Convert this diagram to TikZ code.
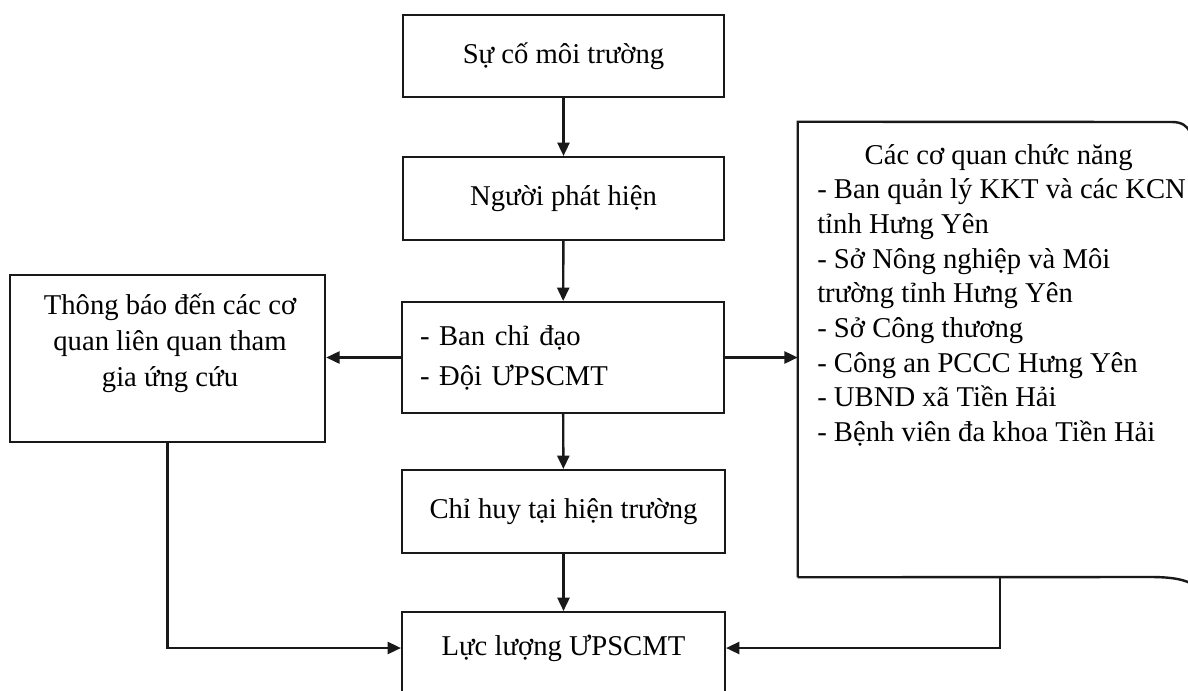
\documentclass[tikz,border=0pt]{standalone}
\usepackage{fontspec}
\setmainfont{Liberation Serif}
\usetikzlibrary{arrows.meta}
\begin{document}
\begin{tikzpicture}[x=0.75pt,y=-0.75pt,
  line/.style={line width=1.8pt, draw=black!90},
  box/.style={line, rectangle, inner sep=0pt, font=\fontsize{21.5}{26}\selectfont},
  arr/.style={line, -{Triangle[length=10pt,width=9pt]}},
  txt/.style={inner sep=0pt, font=\fontsize{21.5}{26}\selectfont}]
\path[fill=white] (0,0) rectangle (1188,690);
\useasboundingbox (0,0) rectangle (1188,690);
\clip (0,0) rectangle (1188,690);
% centre column
\node[box, minimum width=241pt, minimum height=61.5pt] (b1) at (563.5,56) {Sự cố môi trường};
\node[box, minimum width=241pt, minimum height=62pt] (b2) at (563.5,198.5) {Người phát hiện};
\node[box, minimum width=241.5pt, minimum height=83pt, text width=214.5pt, align=left,
      font=\fontsize{21.5}{30}\selectfont] (b3) at (563,357.5) {- Ban chỉ đạo\\- Đội ƯPSCMT};
\node[box, minimum width=242pt, minimum height=62pt] (b4) at (563.5,511.5) {Chỉ huy tại hiện trường};
\node[box, minimum width=242pt, minimum height=75pt, anchor=north] (b5) at (563.5,611) {};
\node[txt] (t5) at (563.5,648) {Lực lượng ƯPSCMT};
% left box
\node[box, minimum width=236.25pt, minimum height=125.25pt] (lft) at (167.5,358.5) {};
\node[txt, align=center, font=\fontsize{21.5}{27}\selectfont] (tl) at (170,343)
  {Thông báo đến các cơ\\quan liên quan tham\\gia ứng cứu};
% right box
\node[inner sep=0pt, minimum width=294pt, minimum height=341.25pt] (org) at (994,349.5) {};
\draw[line] (org.south west) -- (org.north west) -- (1172,122)
  .. controls (1182,122) and (1187,126) .. (1190,132);
\draw[line] (org.south west) -- (1150,577)
  .. controls (1170,577) and (1182,579) .. (1190,583);
\node[txt, anchor=north west, align=left] (tr) at (817,144)
  {\makebox[272pt][c]{Các cơ quan chức năng}\\
   - Ban quản lý KKT và các KCN\\
   tỉnh Hưng Yên\\
   - Sở Nông nghiệp và Môi\\
   trường tỉnh Hưng Yên\\
   - Sở Công thương\\
   - Công an PCCC Hưng Yên\\
   - UBND xã Tiền Hải\\
   - Bệnh viên đa khoa Tiền Hải};
% connectors
\draw[arr] (b1) -- (b2);
\draw[arr] (b2) -- (b3);
\draw[arr] (b3) -- (b4);
\draw[arr] (b4) -- (b5);
\draw[arr] (b3.west) -- (b3.west -| lft.east);
\draw[arr] (b3.east) -- (b3.east -| org.west);
\draw[arr] (lft.south) |- (t5.west -| b5.west);
\draw[arr] (org.south -| 1000,0) |- (t5.east -| b5.east);
\end{tikzpicture}
\end{document}
